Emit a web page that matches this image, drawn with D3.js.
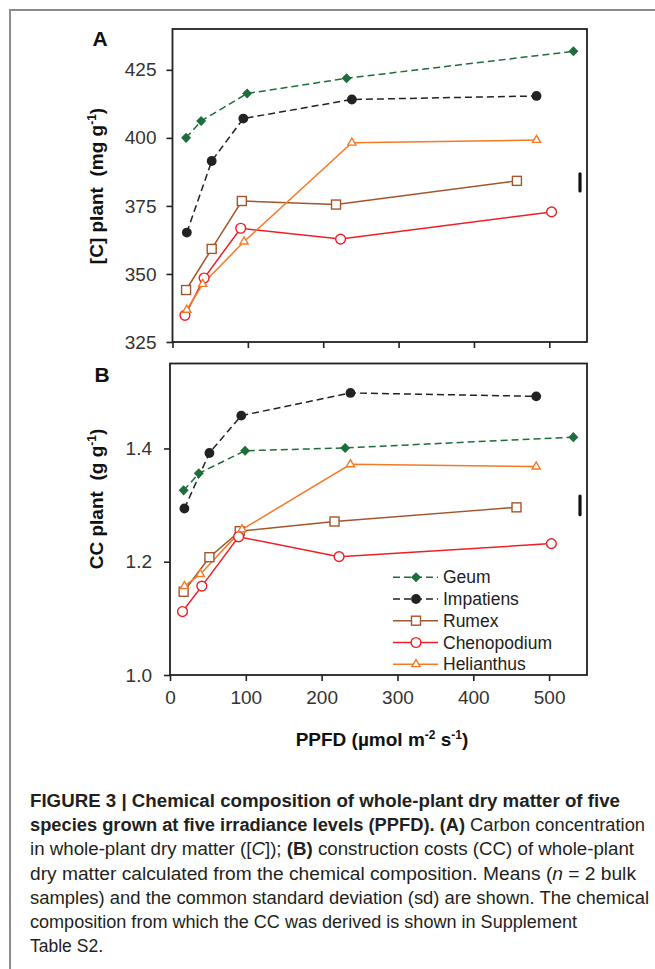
<!DOCTYPE html>
<html>
<head>
<meta charset="utf-8">
<script src="https://cdn.jsdelivr.net/npm/d3@7"></script>
<style>
  html, body { margin: 0; padding: 0; background: #fff; }
  svg { display: block; }
  text { font-family: "Liberation Sans", Arial, Helvetica, sans-serif; }
</style>
</head>
<body>
<svg id="chart" width="655" height="969"></svg>
<script>
// ---------- data ----------
const species = ["Geum", "Impatiens", "Rumex", "Chenopodium", "Helianthus"];
const ppfdGeum        = [18, 38, 99, 231, 532];
const ppfdImpatiens   = [19, 52, 94, 238, 483];
const ppfdRumex       = [18, 52, 92, 217, 457];
const ppfdChenopodium = [16.5, 42, 90.5, 223, 503];
const ppfdHelianthus  = [19, 40, 95, 238, 483];

// Panel A: [C] plant (mg g-1)
const carbonGeum        = [400.0, 406.2, 416.3, 421.9, 431.8];
const carbonImpatiens   = [365.2, 391.5, 407.1, 414.1, 415.4];
const carbonRumex       = [344.1, 359.2, 376.8, 375.5, 384.2];
const carbonChenopodium = [334.8, 348.5, 366.8, 362.8, 372.8];
const carbonHelianthus  = [336.8, 346.3, 361.9, 398.2, 399.2];

// Panel B: CC plant (g g-1)
const ccGeum        = [1.326, 1.356, 1.396, 1.401, 1.420];
const ccImpatiens   = [1.294, 1.392, 1.458, 1.498, 1.492];
const ccRumex       = [1.147, 1.208, 1.254, 1.271, 1.296];
const ccChenopodium = [1.112, 1.157, 1.244, 1.209, 1.232];
const ccHelianthus  = [1.157, 1.178, 1.257, 1.372, 1.368];

// common SD bars
const sdCarbon = [380.5, 386.8];
const sdCC = [1.283, 1.316];

const xTicks = [0, 100, 200, 300, 400, 500];
const yTicksA = [325, 350, 375, 400, 425];
const yTicksB = [1.0, 1.2, 1.4];

const ppfd = [ppfdGeum, ppfdImpatiens, ppfdRumex, ppfdChenopodium, ppfdHelianthus];
const carbon = [carbonGeum, carbonImpatiens, carbonRumex, carbonChenopodium, carbonHelianthus];
const cc = [ccGeum, ccImpatiens, ccRumex, ccChenopodium, ccHelianthus];

// ---------- styles ----------
const colors = ["#1d6e3b", "#222222", "#a3562b", "#ee1f26", "#f57a27"];
const dashes = ["7,4", "7,4", null, null, null];
const markers = ["diamond", "dot", "square", "circle", "triangle"];

const svg = d3.select("#chart");

// outer gray frame
svg.append("path")
  .attr("d", "M10,969 L10,10 L655,10")
  .attr("fill", "none").attr("stroke", "#8c8c8c").attr("stroke-width", 2);

function drawMarker(g, type, x, y, color) {
  if (type === "diamond") {
    g.append("path").attr("d", d3.symbol(d3.symbolDiamond2, 64)())
      .attr("transform", `translate(${x},${y})`).attr("fill", color);
  } else if (type === "dot") {
    g.append("circle").attr("cx", x).attr("cy", y).attr("r", 4.9).attr("fill", color);
  } else if (type === "square") {
    g.append("rect").attr("x", x - 4.5).attr("y", y - 4.5).attr("width", 9).attr("height", 9)
      .attr("fill", "#fff").attr("stroke", color).attr("stroke-width", 1.4);
  } else if (type === "circle") {
    g.append("circle").attr("cx", x).attr("cy", y).attr("r", 4.9)
      .attr("fill", "#fff").attr("stroke", color).attr("stroke-width", 1.4);
  } else if (type === "triangle") {
    g.append("path").attr("d", d3.symbol(d3.symbolTriangle2, 48)())
      .attr("transform", `translate(${x},${y})`)
      .attr("fill", "#fff").attr("stroke", color).attr("stroke-width", 1.4);
  }
}

function panel(cfg) {
  const x = d3.scaleLinear().domain([0, 550]).range([cfg.left, cfg.right]);
  const y = d3.scaleLinear().domain(cfg.ydomain).range([cfg.bottom, cfg.top]);
  const g = svg.append("g");

  const ya = g.append("g").attr("transform", `translate(${cfg.left},0)`)
    .call(d3.axisLeft(y).tickValues(cfg.yticks).tickSize(6).tickPadding(cfg.ypad).tickFormat(cfg.yfmt));
  const xa = g.append("g").attr("transform", `translate(0,${cfg.bottom})`)
    .call(d3.axisBottom(x).tickValues(xTicks).tickSize(6).tickPadding(10)
      .tickFormat(cfg.xlabels ? d3.format("d") : () => ""));
  [ya, xa].forEach(a => {
    a.select(".domain").remove();
    a.selectAll(".tick line").attr("stroke", "#222").attr("stroke-width", 1.6);
    a.selectAll(".tick text").attr("fill", "#333").style("font-size", "19px")
      .style("font-family", "'Liberation Sans', Arial, sans-serif");
  });

  g.append("rect").attr("x", cfg.left).attr("y", cfg.top)
    .attr("width", cfg.right - cfg.left).attr("height", cfg.bottom - cfg.top)
    .attr("fill", "none").attr("stroke", "#222").attr("stroke-width", 1.8);

  const line = d3.line().x(d => x(d[0])).y(d => y(d[1]));
  species.forEach((s, i) => {
    const pts = ppfd[i].map((p, j) => [p, cfg.values[i][j]]);
    g.append("path").datum(pts).attr("d", line)
      .attr("fill", "none").attr("stroke", colors[i]).attr("stroke-width", 1.5)
      .attr("stroke-dasharray", dashes[i]);
  });
  species.forEach((s, i) => {
    ppfd[i].forEach((p, j) => drawMarker(g, markers[i], x(p), y(cfg.values[i][j]), colors[i]));
  });

  g.append("line").attr("x1", cfg.sdx).attr("x2", cfg.sdx)
    .attr("y1", y(cfg.sd[0])).attr("y2", y(cfg.sd[1]))
    .attr("stroke", "#111").attr("stroke-width", 3.2).attr("stroke-linecap", "round");

  svg.append("text").attr("x", cfg.letterX).attr("y", cfg.letterY)
    .attr("text-anchor", "middle").style("font-size", "21px").style("font-weight", "bold")
    .attr("fill", "#111").text(cfg.letter);

  const yl = svg.append("text")
    .attr("transform", `translate(${cfg.ylabX},${cfg.ylabY}) rotate(-90)`)
    .attr("text-anchor", "middle").style("font-size", "19px").style("font-weight", "bold")
    .attr("fill", "#111");
  yl.append("tspan").text(cfg.ylab[0]);
  yl.append("tspan").attr("dy", -7).style("font-size", "12px").text("-1");
  yl.append("tspan").attr("dy", 7).text(")");
  return { x, y };
}

panel({
  left: 172.5, right: 587, top: 29, bottom: 342,
  ydomain: [325, 440], yticks: yTicksA, yfmt: d3.format("d"), ypad: 10,
  xlabels: false, values: carbon, sd: sdCarbon, sdx: 580,
  letter: "A", letterX: 100, letterY: 46,
  ylab: ["[C] plant\u00a0\u00a0(mg g"], ylabX: 103, ylabY: 186
});

panel({
  left: 170, right: 587, top: 363.5, bottom: 675,
  ydomain: [1.0, 1.55], yticks: yTicksB, yfmt: d3.format(".1f"), ypad: 12,
  xlabels: true, values: cc, sd: sdCC, sdx: 580,
  letter: "B", letterX: 102, letterY: 382,
  ylab: ["CC plant\u00a0\u00a0(g g"], ylabX: 103, ylabY: 499
});

// x axis title
const xt = svg.append("text").attr("x", 382).attr("y", 746).attr("text-anchor", "middle")
  .style("font-size", "19px").style("font-weight", "bold").attr("fill", "#111");
xt.append("tspan").text("PPFD (\u00b5mol m");
xt.append("tspan").attr("dy", -7).style("font-size", "12px").text("-2");
xt.append("tspan").attr("dy", 7).text(" s");
xt.append("tspan").attr("dy", -7).style("font-size", "12px").text("-1");
xt.append("tspan").attr("dy", 7).text(")");

// legend
const legRows = [577.3, 599, 620.7, 642.5, 664.3];
species.forEach((s, i) => {
  const ly = legRows[i];
  svg.append("line").attr("x1", 393).attr("x2", 438).attr("y1", ly).attr("y2", ly)
    .attr("stroke", colors[i]).attr("stroke-width", 1.5).attr("stroke-dasharray", dashes[i]);
  drawMarker(svg, markers[i], 416, ly, colors[i]);
  svg.append("text").attr("x", 443).attr("y", ly + 6).style("font-size", "17.5px")
    .attr("fill", "#222").text(s);
});

// caption
const capLines = [
  [["b", "FIGURE 3 | Chemical composition of whole-plant dry matter of five"]],
  [["b", "species grown at five irradiance levels (PPFD). (A)"], ["n", " Carbon concentration"]],
  [["n", "in whole-plant dry matter (["], ["i", "C"], ["n", "]); "], ["b", "(B)"], ["n", " construction costs (CC) of whole-plant"]],
  [["n", "dry matter calculated from the chemical composition. Means ("], ["i", "n"], ["n", "\u00a0=\u00a02 bulk"]],
  [["n", "samples) and the common standard deviation (sd) are shown. The chemical"]],
  [["n", "composition from which the CC was derived is shown in Supplement"]],
  [["n", "Table S2."]]
];
const capWidths = [590, 615, 604, 606, 619, 547, 73];
capLines.forEach((parts, k) => {
  const t = svg.append("text").attr("x", 30).attr("y", 807 + k * 24.2)
    .style("font-family", "'Liberation Sans Narrow', 'Liberation Sans', Arial, sans-serif")
    .style("font-size", "17.5px").attr("fill", "#231f20")
    .attr("textLength", capWidths[k]).attr("lengthAdjust", "spacingAndGlyphs");
  parts.forEach(([st, txt]) => {
    const sp = t.append("tspan").text(txt);
    if (st === "b") sp.style("font-weight", "bold");
    if (st === "i") sp.style("font-style", "italic");
  });
});
</script>
</body>
</html>
